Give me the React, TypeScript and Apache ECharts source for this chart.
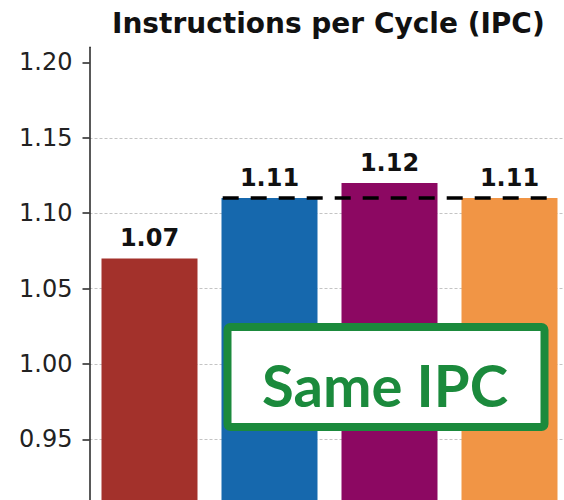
import React, { useEffect, useRef } from "react";
import * as echarts from "echarts";

const categories = ["Baseline", "Variant A", "Variant B", "Variant C"];
const ipcValues = [1.07, 1.11, 1.12, 1.11];
const barColors = ["#a3312b", "#1668ad", "#8c0862", "#f19545"];
const yTicks = [0.95, 1.0, 1.05, 1.1, 1.15, 1.2];
const refLineX = [0.61, 3.32];
const refLineY = 1.11;
const titleText = "Instructions per Cycle (IPC)";
const boxText = "Same IPC";

export default function App() {
  const ref = useRef<HTMLDivElement>(null);
  useEffect(() => {
    if (!ref.current) return;
    const chart = echarts.init(ref.current, null, { renderer: "svg" });
    chart.setOption({
      animation: false,
      backgroundColor: "#ffffff",
      title: {
        text: titleText,
        left: 107,
        top: 4,
        textStyle: {
          fontFamily: "DejaVu Sans",
          fontWeight: "bold",
          fontSize: 28,
          color: "#111",
        },
      },
      grid: {
        left: 89.5,
        top: 47.3,
        width: 480,
        height: 467.5,
        outerBoundsMode: "none",
        containLabel: false,
      },
      xAxis: [
        {
          type: "category",
          data: categories,
          axisLabel: { show: false },
          axisTick: { show: false },
          axisLine: { show: false },
        },
        {
          type: "value",
          min: -0.5,
          max: 3.5,
          show: false,
        },
      ],
      yAxis: {
        type: "value",
        min: 0.9,
        max: 1.21,
        interval: 0.05,
        axisLine: {
          show: true,
          onZero: false,
          lineStyle: { color: "#222", width: 1.5 },
        },
        axisTick: {
          show: true,
          length: 7,
          lineStyle: { color: "#222", width: 1.5 },
          customValues: yTicks,
        },
        axisLabel: {
          margin: 17,
          fontFamily: "DejaVu Sans",
          fontSize: 24,
          color: "#222",
          customValues: yTicks,
          formatter: (v: number) => v.toFixed(2),
        },
        splitLine: {
          show: true,
          showMaxLine: false,
          lineStyle: { color: "#c4c4c4", width: 1, type: [3, 2] },
        },
      },
      series: [
        {
          type: "bar",
          data: ipcValues.map((v, i) => ({
            value: v,
            itemStyle: { color: barColors[i] },
          })),
          barWidth: "80%",
          label: {
            show: true,
            position: "top",
            distance: 8,
            fontFamily: "DejaVu Sans",
            fontWeight: "bold",
            fontSize: 24,
            color: "#111",
            formatter: (p: any) => Number(p.value).toFixed(2),
          },
          z: 2,
        },
        {
          type: "line",
          xAxisIndex: 1,
          data: refLineX.map((x) => [x, refLineY]),
          symbol: "none",
          silent: true,
          lineStyle: { color: "#000", width: 3.5, type: [16, 12] },
          z: 5,
        },
      ],
      graphic: [
        {
          type: "rect",
          shape: { x: 227.5, y: 327, width: 317, height: 100, r: 3 },
          style: { fill: "#ffffff", stroke: "#1b8a3c", lineWidth: 8 },
          z: 100,
        },
        {
          type: "text",
          x: 385,
          y: 384,
          style: {
            text: boxText,
            fill: "#1b8a3c",
            font: "bold 58px Lato",
            textAlign: "center",
            textVerticalAlign: "middle",
          },
          z: 101,
        },
      ],
    });
    return () => chart.dispose();
  }, []);
  return (
    <div
      ref={ref}
      style={{ position: "fixed", left: 0, top: 0, width: 564, height: 500 }}
    />
  );
}
